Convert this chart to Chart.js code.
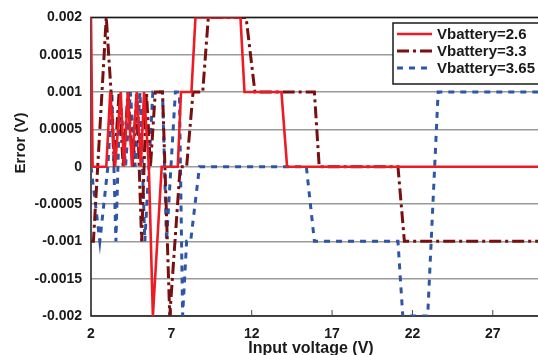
<!DOCTYPE html>
<html>
<head>
<meta charset="utf-8">
<script src="https://cdn.jsdelivr.net/npm/chart.js@4.4.1/dist/chart.umd.min.js"></script>
<style>
  html, body { margin: 0; padding: 0; background: #fff; overflow: hidden; }
  #wrap { width: 545px; height: 355px; }
</style>
</head>
<body>
<div id="wrap"><canvas id="chart" width="545" height="355"></canvas></div>
<script>
// series labels
const seriesNames = ['Vbattery=2.6', 'Vbattery=3.3', 'Vbattery=3.65'];

// Vbattery=2.6
const redX = [2.0, 2.1, 2.95, 3.2, 3.5, 3.85, 4.05, 4.3, 4.55, 4.85, 5.1, 5.3, 5.6, 5.85, 6.4, 7.4, 7.6, 8.25, 8.5, 11.3, 11.55, 13.85, 14.2, 30];
const redY = [0.002, 0, 0, 0.001, 0, 0.001, 0, 0.001, 0, 0.001, 0, 0.001, 0, -0.002, 0, 0, 0.001, 0.001, 0.002, 0.002, 0.001, 0.001, 0, 0];

// Vbattery=3.3
const darkX = [2.0, 2.15, 2.95, 3.25, 3.45, 3.75, 4.0, 4.3, 4.6, 4.85, 5.15, 5.45, 5.7, 6.0, 6.45, 6.9, 7.55, 7.95, 8.35, 8.95, 9.3, 11.65, 12.2, 15.9, 16.2, 21.1, 21.5, 30];
const darkY = [-0.001, -0.001, 0.002, 0.001, 0, 0.001, 0, 0.001, 0, 0.001, -0.001, 0.001, 0, 0.001, 0.001, -0.002, 0, 0, 0.001, 0.001, 0.002, 0.002, 0.001, 0.001, 0, 0, -0.001, -0.001];

// Vbattery=3.65
const blueX = [2.0, 2.55, 3.05, 3.3, 3.55, 3.8, 4.15, 4.45, 4.75, 5.05, 5.35, 5.85, 6.45, 6.7, 7.25, 7.5, 7.7, 7.95, 8.2, 8.75, 15.4, 15.9, 21.1, 21.4, 22.95, 23.6, 30];
const blueY = [0, -0.001, 0, 0.001, -0.001, 0.001, 0, 0.001, 0, 0.001, -0.001, 0.001, 0.001, -0.001, 0.001, 0.001, -0.002, -0.001, -0.001, 0, 0, -0.001, -0.001, -0.002, -0.002, 0.001, 0.001];

// axes
const xTicks = [2, 7, 12, 17, 22, 27];
const yTicks = [-0.002, -0.0015, -0.001, -0.0005, 0, 0.0005, 0.001, 0.0015, 0.002];
const yTickLabels = ['-0.002', '-0.0015', '-0.001', '-0.0005', '0', '0.0005', '0.001', '0.0015', '0.002'];

const FONT = "'Liberation Sans', Arial, sans-serif";
const toPoints = (xs, ys) => xs.map((x, i) => ({ x: x, y: ys[i] }));

// frame around the plot + inward tick marks on x axis
const framePlugin = {
  id: 'frame',
  beforeDatasetsDraw(chart) {
    const { ctx, chartArea: a, scales } = chart;
    ctx.save();
    ctx.strokeStyle = '#1a1a1a';
    ctx.lineWidth = 1.5;
    ctx.strokeRect(a.left, a.top, a.right - a.left, a.bottom - a.top);
    ctx.beginPath();
    xTicks.forEach(v => {
      const px = scales.x.getPixelForValue(v);
      ctx.moveTo(px, a.bottom);
      ctx.lineTo(px, a.bottom - 6);
    });
    ctx.lineWidth = 1;
    ctx.strokeStyle = '#444';
    ctx.stroke();
    ctx.restore();
  }
};

// boxed legend in top right, axis titles
const labelsPlugin = {
  id: 'labels',
  afterDraw(chart) {
    const { ctx } = chart;
    ctx.save();
    // legend box
    ctx.fillStyle = '#fff';
    ctx.fillRect(393, 23, 160, 61);
    ctx.strokeStyle = '#1a1a1a';
    ctx.lineWidth = 1.5;
    ctx.strokeRect(393, 23, 160, 61);
    chart.data.datasets.forEach((ds, i) => {
      const y = 34 + i * 17;
      ctx.beginPath();
      ctx.setLineDash(ds.borderDash || []);
      ctx.strokeStyle = ds.borderColor;
      ctx.lineWidth = ds.borderWidth;
      ctx.moveTo(397, y);
      ctx.lineTo(432, y);
      ctx.stroke();
      ctx.setLineDash([]);
      ctx.fillStyle = '#1a1a1a';
      ctx.font = 'bold 15px ' + FONT;
      ctx.textBaseline = 'middle';
      ctx.textAlign = 'left';
      ctx.fillText(ds.label, 437, y + 1);
    });
    // axis titles
    ctx.fillStyle = '#1a1a1a';
    ctx.font = 'bold 16px ' + FONT;
    ctx.textAlign = 'center';
    ctx.textBaseline = 'alphabetic';
    ctx.fillText('Input voltage (V)', 311, 353);
    ctx.translate(25, 143);
    ctx.rotate(-Math.PI / 2);
    ctx.font = 'bold 15px ' + FONT;
    ctx.fillText('Error (V)', 0, 0);
    ctx.restore();
  }
};

new Chart(document.getElementById('chart'), {
  type: 'line',
  data: {
    datasets: [
      {
        label: seriesNames[0],
        data: toPoints(redX, redY),
        borderColor: '#ed1c24',
        borderWidth: 2.6
      },
      {
        label: seriesNames[1],
        data: toPoints(darkX, darkY),
        borderColor: '#7a0f10',
        borderWidth: 3,
        borderDash: [12, 4, 3, 4]
      },
      {
        label: seriesNames[2],
        data: toPoints(blueX, blueY),
        borderColor: '#2f56a6',
        borderWidth: 3,
        borderDash: [6, 6]
      }
    ]
  },
  options: {
    responsive: false,
    animation: false,
    elements: { point: { radius: 0 }, line: { tension: 0, fill: false } },
    layout: { padding: { top: 17, right: 4, left: 0, bottom: 0 } },
    plugins: { legend: { display: false }, tooltip: { enabled: false } },
    scales: {
      x: {
        type: 'linear',
        min: 2,
        max: 30,
        afterBuildTicks: s => { s.ticks = xTicks.map(v => ({ value: v })); },
        afterFit: s => { s.height = 39; },
        grid: { display: false, drawTicks: false },
        border: { display: false },
        ticks: {
          padding: 10,
          color: '#1a1a1a',
          font: { family: FONT, size: 14, weight: 'bold' },
          maxRotation: 0,
          autoSkip: false
        }
      },
      y: {
        min: -0.002,
        max: 0.002,
        afterBuildTicks: s => { s.ticks = yTicks.map(v => ({ value: v })); },
        afterFit: s => { s.width = 91; },
        grid: { color: '#9a9a9a', lineWidth: 1.5, drawTicks: false },
        border: { display: false },
        ticks: {
          padding: 9,
          color: '#1a1a1a',
          font: { family: FONT, size: 14, weight: 'bold' },
          autoSkip: false,
          callback: (v, i) => yTickLabels[i]
        }
      }
    }
  },
  plugins: [framePlugin, labelsPlugin]
});
</script>
</body>
</html>
